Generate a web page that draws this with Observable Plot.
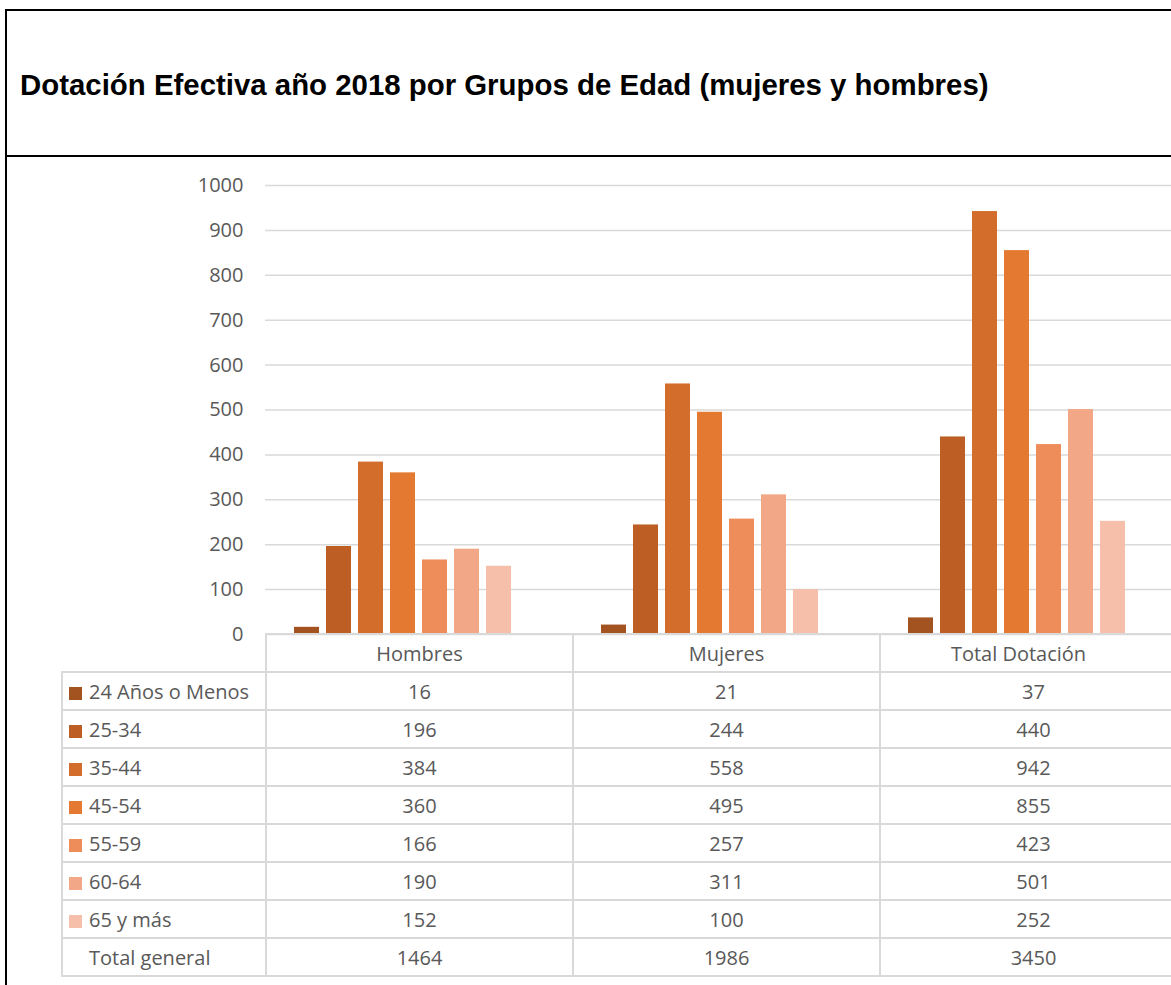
<!DOCTYPE html>
<html>
<head>
<meta charset="utf-8">
<script src="https://cdn.jsdelivr.net/npm/d3@7"></script>
<script src="https://cdn.jsdelivr.net/npm/@observablehq/plot@0.6"></script>
<style>
  html, body { margin: 0; padding: 0; background: #fff; }
  #wrap { position: relative; width: 1171px; height: 985px; overflow: hidden; background: #fff; }
  #titlebox { position: absolute; left: 5px; top: 9px; width: 1200px; height: 144px;
    border-top: 2px solid #000; border-left: 2px solid #000; border-bottom: 2px solid #000; }
  #leftline { position: absolute; left: 5px; top: 150px; width: 0; height: 840px; border-left: 2px solid #000; }
  #title { position: absolute; left: 20px; top: 68px; font-family: "Liberation Sans", Arial, sans-serif;
    font-weight: bold; font-size: 29.4px; color: #000; white-space: nowrap; line-height: 34px; }
  #chart { position: absolute; left: 0; top: 155px; width: 1186px; }
  #chart svg { overflow: visible; max-width: none !important; }
  #datatable { position: absolute; left: 61px; top: 633px; width: 1125px; border-collapse: collapse; table-layout: fixed;
    font-family: "Open Sans", sans-serif; font-size: 20px; color: #595959; }
  #datatable td { border: 2px solid #d9d9d9; height: 36px; padding: 0; text-align: center; white-space: nowrap; }
  #datatable td.lab { text-align: left; padding-left: 6px; }
  #datatable td.blank { border-top: none; border-left: none; }
  .sw { display: inline-block; width: 13px; height: 13px; margin-right: 7px; vertical-align: -1px; }
</style>
</head>
<body>
<div id="wrap">
  <div id="titlebox"></div>
  <div id="leftline"></div>
  <div id="title"></div>
  <div id="chart"></div>
  <table id="datatable"></table>
</div>
<script>
const titleText = "Dotación Efectiva año 2018 por Grupos de Edad (mujeres y hombres)";
const categories = ["Hombres", "Mujeres", "Total Dotación"];
const ageGroups = ["24 Años o Menos", "25-34", "35-44", "45-54", "55-59", "60-64", "65 y más"];
const totalLabel = "Total general";
const hombres = [16, 196, 384, 360, 166, 190, 152];
const mujeres = [21, 244, 558, 495, 257, 311, 100];
const totalDotacion = [37, 440, 942, 855, 423, 501, 252];
const totalGeneral = [1464, 1986, 3450];
const colors = ["#A3531F", "#BD5F24", "#D36D2B", "#E47A32", "#EE8D5A", "#F2A887", "#F5BFAA"];
const yTicks = [0, 100, 200, 300, 400, 500, 600, 700, 800, 900, 1000];

document.getElementById("title").textContent = titleText;

const seriesByCat = [hombres, mujeres, totalDotacion];
const data = [];
categories.forEach((c, ci) => ageGroups.forEach((a, ai) => data.push({cat: c, age: a, value: seriesByCat[ci][ai]})));

const chart = Plot.plot({
  width: 1186,
  height: 520,
  marginLeft: 265,
  marginRight: 0,
  marginTop: 30,
  marginBottom: 41,
  style: {fontFamily: "Open Sans, sans-serif", fontSize: "20px", color: "#595959", background: "transparent", overflow: "visible", maxWidth: "none"},
  fx: {domain: categories, padding: 0, axis: null, label: null},
  x: {domain: [...ageGroups, totalLabel], paddingInner: 0.21, paddingOuter: 0.87, axis: null},
  y: {domain: [0, 1000], range: [479, 30], label: null},
  color: {domain: ageGroups, range: colors},
  marks: [
    Plot.gridY(yTicks, {stroke: "#d9d9d9", strokeOpacity: 1, strokeWidth: 1.5}),
    Plot.axisY(yTicks, {tickSize: 0, tickPadding: 22, fontSize: 20, fill: "#595959", label: null, tickFormat: d => String(d)}),
    Plot.barY(data, {fx: "cat", x: "age", y: "value", fill: "age"})
  ]
});
document.getElementById("chart").appendChild(chart);

// data table (legend + values)
const table = d3.select("#datatable");
const colg = table.append("colgroup");
[204, 307, 307, 307].forEach(w => colg.append("col").style("width", w + "px"));
const head = table.append("tr");
head.append("td").attr("class", "blank");
categories.forEach((c, i) => {
  const td = head.append("td").text(c);
  if (i === 2) td.style("padding-right", "30px");
});
ageGroups.forEach((a, ai) => {
  const tr = table.append("tr");
  const lab = tr.append("td").attr("class", "lab");
  lab.append("span").attr("class", "sw").style("background", colors[ai]);
  lab.append("span").text(a);
  seriesByCat.forEach(s => tr.append("td").text(s[ai]));
});
const tot = table.append("tr");
const tl = tot.append("td").attr("class", "lab");
tl.append("span").attr("class", "sw").style("background", "transparent");
tl.append("span").text(totalLabel);
totalGeneral.forEach(v => tot.append("td").text(v));
</script>
</body>
</html>
